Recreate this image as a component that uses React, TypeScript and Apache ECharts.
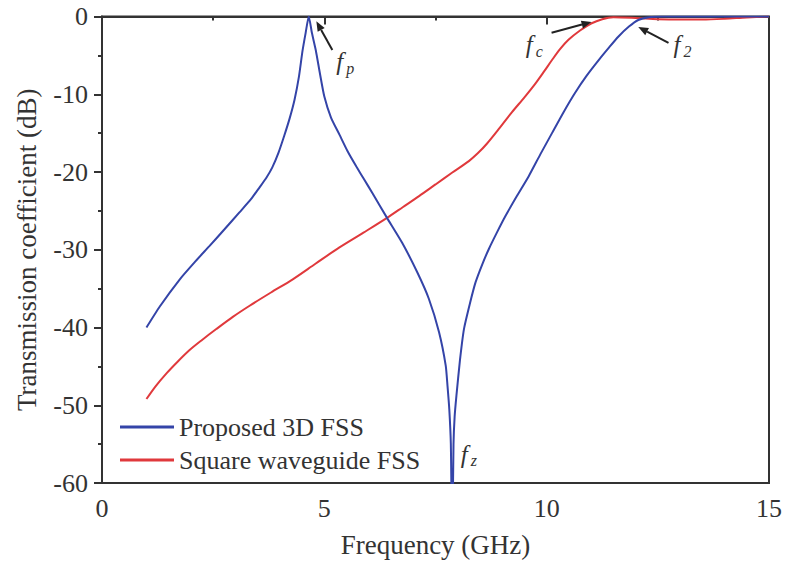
import React, { useEffect, useRef } from "react";
import * as echarts from "echarts";

// Proposed 3D FSS: transmission (dB) vs frequency (GHz)
const freqProposed = [
  1.0, 1.3, 1.75, 2.1, 2.42, 2.75, 3.09, 3.35, 3.54, 3.7, 3.83, 3.97, 4.1, 4.22, 4.33, 4.43, 4.51, 4.58, 4.65,
  4.72, 4.81, 4.9, 5.0, 5.15, 5.34, 5.52, 5.72, 5.9, 6.08, 6.41, 6.75, 7.09, 7.35, 7.58, 7.73, 7.77, 7.81,
  7.845, 7.875, 7.905, 7.93, 7.97, 8.05, 8.14, 8.27, 8.4, 8.55, 8.7, 8.88, 9.07, 9.33, 9.6, 9.86, 10.12,
  10.38, 10.64, 10.9, 11.17, 11.4, 11.61, 11.85, 12.06, 12.3, 12.6, 13.0, 14.0, 15.0,
];
const s21Proposed = [
  -40, -37.3, -33.8, -31.5, -29.5, -27.4, -25.2, -23.5, -22.0, -20.7, -19.4, -17.5, -15.3, -13.1, -10.7, -7.7,
  -4.4, -2.1, 0, -2.1, -4.4, -7.3, -10.3, -13.0, -15.2, -17.3, -19.3, -21.0, -22.7, -25.9, -29.1, -32.9, -36.3,
  -40.6, -44.9, -47.5, -50.5, -55, -68, -55, -51.5, -48.8, -44.2, -40.2, -37.0, -34.2, -31.9, -29.9, -27.8,
  -25.7, -23.1, -20.5, -17.7, -15, -12.3, -9.8, -7.6, -5.6, -4.0, -2.6, -1.3, -0.45, -0.1, 0, 0, 0, 0,
];

// Square waveguide FSS
const freqSquare = [
  1.0, 1.2, 1.45, 1.7, 1.97, 2.25, 2.57, 2.95, 3.32, 3.8, 4.29, 4.8, 5.34, 5.88, 6.41, 6.77, 7.13, 7.5, 7.87,
  8.25, 8.45, 8.65, 8.92, 9.22, 9.5, 9.75, 9.95, 10.12, 10.3, 10.49, 10.75, 11.0, 11.25, 11.5, 12.0, 12.5,
  13.0, 13.5, 14.0, 14.5, 15.0,
];
const s21Square = [
  -49.2, -47.6, -45.9, -44.4, -42.9, -41.6, -40.2, -38.6, -37.2, -35.5, -33.8, -31.8, -29.7, -27.8, -25.9,
  -24.5, -23.1, -21.6, -20.1, -18.6, -17.6, -16.4, -14.5, -12.3, -10.4, -8.6, -7.0, -5.6, -4.2, -3.0, -1.8,
  -0.9, -0.35, -0.1, -0.2, -0.35, -0.4, -0.4, -0.3, -0.12, 0,
];

// Axis ranges and ticks
const xRange = [0, 15];
const xStep = 5;
const yRange = [-60, 0];
const yStep = 10;

// Frequency markers: subscript, label anchor (GHz, dB), arrow tail, arrow head
const markerSubs = ["p", "c", "2", "z"];
const markerLabelAt: number[][] = [
  [5.27, -4.2],
  [9.53, -2.0],
  [12.85, -2.0],
  [8.07, -54.7],
];
const markerArrowTail: (number[] | null)[] = [[5.18, -4.3], [10.11, -2.1], [12.74, -3.4], null];
const markerArrowHead: (number[] | null)[] = [[4.82, -0.6], [11.01, -0.7], [12.06, -1.35], null];

const FONT = "'Liberation Serif', 'Times New Roman', serif";
const INK = "#333333";
const BLUE = "#3444a8";
const RED = "#e0393c";

const pairs = (xs: number[], ys: number[]) => xs.map((x, i) => [x, ys[i]]);

export default function App() {
  const ref = useRef<HTMLDivElement>(null);

  useEffect(() => {
    if (!ref.current) return;
    const chart = echarts.init(ref.current, null, { renderer: "svg" });

    chart.setOption({
      animation: false,
      backgroundColor: "#ffffff",
      grid: {
        left: 102,
        right: 14,
        top: 16.5,
        bottom: 79,
        show: true,
        borderColor: INK,
        borderWidth: 2,
        backgroundColor: "transparent",
      },
      xAxis: {
        type: "value",
        min: xRange[0],
        max: xRange[1],
        interval: xStep,
        name: "Frequency (GHz)",
        nameLocation: "middle",
        nameGap: 48,
        nameTextStyle: { fontFamily: FONT, fontSize: 27, color: INK },
        axisLine: { show: true, lineStyle: { color: INK, width: 2 } },
        axisTick: { show: true, inside: false, length: 8, lineStyle: { color: INK, width: 2 } },
        minorTick: { show: true, splitNumber: 2, length: 4, lineStyle: { color: INK, width: 2 } },
        axisLabel: { fontFamily: FONT, fontSize: 26, color: INK, margin: 12 },
        splitLine: { show: false },
      },
      yAxis: {
        type: "value",
        min: yRange[0],
        max: yRange[1],
        interval: yStep,
        name: "Transmission coefficient (dB)",
        nameLocation: "middle",
        nameGap: 62,
        nameTextStyle: { fontFamily: FONT, fontSize: 27, color: INK },
        axisLine: { show: true, lineStyle: { color: INK, width: 2 } },
        axisTick: { show: true, inside: false, length: 8, lineStyle: { color: INK, width: 2 } },
        minorTick: { show: true, splitNumber: 2, length: 4, lineStyle: { color: INK, width: 2 } },
        axisLabel: { fontFamily: FONT, fontSize: 26, color: INK, margin: 14 },
        splitLine: { show: false },
      },
      legend: {
        orient: "vertical",
        left: 115,
        top: 409,
        itemWidth: 54,
        itemHeight: 3,
        itemGap: 7,
        itemTextGap: 6,
        icon: "rect",
        textStyle: { fontFamily: FONT, fontSize: 26, color: INK },
        data: ["Proposed 3D FSS", "Square waveguide FSS"],
      },
      series: [
        {
          name: "Proposed 3D FSS",
          type: "line",
          data: pairs(freqProposed, s21Proposed),
          showSymbol: false,
          smooth: 0.2,
          clip: true,
          lineStyle: { color: BLUE, width: 2 },
          itemStyle: { color: BLUE },
          z: 3,
        },
        {
          name: "Square waveguide FSS",
          type: "line",
          data: pairs(freqSquare, s21Square),
          showSymbol: false,
          smooth: 0.3,
          clip: true,
          lineStyle: { color: RED, width: 2 },
          itemStyle: { color: RED },
          z: 2,
        },
      ],
    });

    // Marker labels and arrows, placed through the grid's coordinate system
    const toPx = (p: number[]) => chart.convertToPixel({ gridIndex: 0 }, p) as number[];
    const graphics: any[] = [];
    markerSubs.forEach((sub, i) => {
      const [lx, ly] = toPx(markerLabelAt[i]);
      graphics.push({
        type: "text",
        x: lx,
        y: ly,
        style: {
          text: "f",
          font: `italic 25px ${FONT}`,
          fill: INK,
          verticalAlign: "top",
          align: "left",
        },
      });
      graphics.push({
        type: "text",
        x: lx + 10,
        y: ly + 11,
        style: {
          text: sub,
          font: `italic 16px ${FONT}`,
          fill: INK,
          verticalAlign: "top",
          align: "left",
        },
      });
      const tail = markerArrowTail[i];
      const head = markerArrowHead[i];
      if (tail && head) {
        const [tx, ty] = toPx(tail);
        const [hx, hy] = toPx(head);
        const dx = hx - tx;
        const dy = hy - ty;
        const len = Math.hypot(dx, dy);
        const ux = dx / len;
        const uy = dy / len;
        const headLen = 10;
        const headHalf = 4;
        const bx = hx - ux * headLen;
        const by = hy - uy * headLen;
        graphics.push({
          type: "line",
          shape: { x1: tx, y1: ty, x2: bx, y2: by },
          style: { stroke: "#222222", lineWidth: 2 },
          z: 10,
        });
        graphics.push({
          type: "polygon",
          shape: {
            points: [
              [hx, hy],
              [bx - uy * headHalf, by + ux * headHalf],
              [bx + uy * headHalf, by - ux * headHalf],
            ],
          },
          style: { fill: "#222222" },
          z: 10,
        });
      }
    });
    chart.setOption({ graphic: graphics });

    return () => chart.dispose();
  }, []);

  return (
    <div
      ref={ref}
      style={{ position: "absolute", left: 0, top: 0, width: 785, height: 563 }}
    />
  );
}
